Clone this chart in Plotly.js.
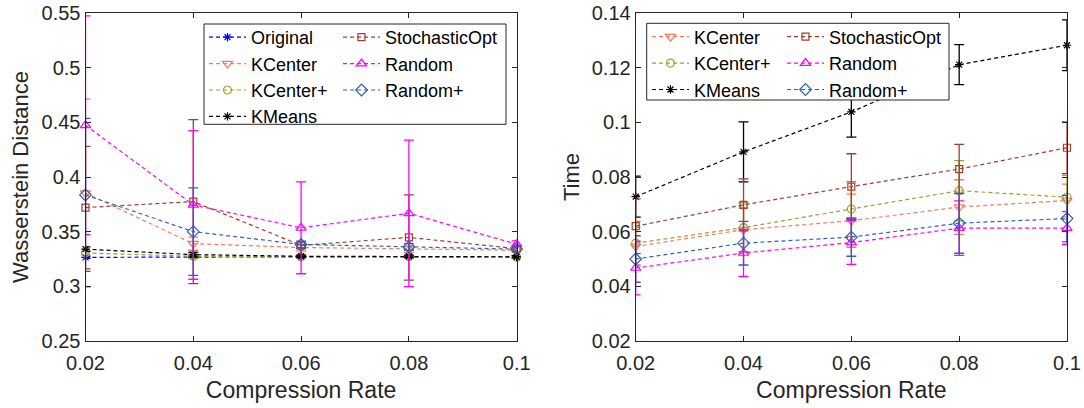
<!DOCTYPE html>
<html><head><meta charset="utf-8">
<script src="https://cdn.plot.ly/plotly-3.0.1.min.js"></script>
<style>html,body{margin:0;padding:0;background:#fff}</style>
</head><body><div id="chart" style="width:1084px;height:408px"></div>
<script>
// ---- data ----
const rates = [0.02, 0.04, 0.06, 0.08, 0.1];
const xTickVals = [0.02, 0.04, 0.06, 0.08, 0.1];
const xTickText = ['0.02', '0.04', '0.06', '0.08', '0.1'];
const wdTickVals = [0.25, 0.3, 0.35, 0.4, 0.45, 0.5, 0.55];
const wdTickText = ['0.25', '0.3', '0.35', '0.4', '0.45', '0.5', '0.55'];
const timeTickVals = [0.02, 0.04, 0.06, 0.08, 0.1, 0.12, 0.14];
const timeTickText = ['0.02', '0.04', '0.06', '0.08', '0.1', '0.12', '0.14'];

// Wasserstein distance (left)
const wdOriginal = [0.3265, 0.327, 0.327, 0.327, 0.327];
const wdOriginalErr = [0.001, 0.001, 0.001, 0.001, 0.001];
const wdKCenter = [0.3853, 0.339, 0.3355, 0.334, 0.333];
const wdKCenterErr = [0.086, 0.006, 0.003, 0.003, 0.002];
const wdKCenterPlus = [0.3305, 0.3275, 0.327, 0.327, 0.3265];
const wdKCenterPlusErr = [0.002, 0.002, 0.001, 0.001, 0.001];
const wdKMeans = [0.334, 0.329, 0.3275, 0.3275, 0.327];
const wdKMeansErr = [0.002, 0.002, 0.001, 0.001, 0.001];
const wdStochOpt = [0.372, 0.3775, 0.3375, 0.3447, 0.3345];
const wdStochOptErr = [0.056, 0.075, 0.003, 0.039, 0.002];
const wdRandom = [0.4473, 0.3745, 0.3535, 0.3668, 0.3385];
const wdRandomErr = [0.1, 0.068, 0.042, 0.067, 0.003];
const wdRandomPlus = [0.3836, 0.35, 0.3383, 0.336, 0.334];
const wdRandomPlusErr = [0.07, 0.04, 0.003, 0.003, 0.002];

// Time (right)
const tKCenter = [0.0546, 0.0607, 0.064, 0.069, 0.0714];
const tKCenterErr = [0.007, 0.008, 0.0097, 0.01, 0.006];
const tKCenterPlus = [0.0558, 0.0615, 0.0683, 0.075, 0.0726];
const tKCenterPlusErr = [0.008, 0.009, 0.01, 0.011, 0.008];
const tKMeans = [0.0728, 0.0892, 0.1038, 0.1211, 0.1282];
const tKMeansErr = [0.0075, 0.011, 0.0092, 0.0073, 0.0093];
const tStochOpt = [0.062, 0.0698, 0.0765, 0.0829, 0.0907];
const tStochOptErr = [0.01, 0.0095, 0.012, 0.009, 0.0095];
const tRandom = [0.0467, 0.0522, 0.056, 0.0613, 0.0613];
const tRandomErr = [0.0098, 0.0086, 0.008, 0.01, 0.006];
const tRandomPlus = [0.05, 0.0558, 0.058, 0.0631, 0.0648];
const tRandomPlusErr = [0.0085, 0.008, 0.007, 0.011, 0.0085];

// ---- styles ----
const STY = {
  'Original':      {color: '#0000FF', symbol: 'asterisk-open', size: 7},
  'KCenter':       {color: '#F87A5E', symbol: 'triangle-down-open', size: 9},
  'KCenter+':      {color: '#A0A033', symbol: 'circle-open', size: 8},
  'KMeans':        {color: '#000000', symbol: 'asterisk-open', size: 7},
  'StochasticOpt': {color: '#A0402C', symbol: 'square-open', size: 7},
  'Random':        {color: '#FF00FF', symbol: 'triangle-up-open', size: 9},
  'Random+':       {color: '#2F63B0', symbol: 'diamond-open', size: 9}
};

function tr(name, y, err, xa, ya, leg) {
  const s = STY[name];
  return {
    type: 'scatter', mode: 'lines+markers', name: name,
    x: rates, y: y, xaxis: xa, yaxis: ya, legend: leg,
    cliponaxis: false,
    line: {color: s.color, width: 1.2, dash: '4px,3px'},
    marker: {symbol: s.symbol, size: s.size, color: s.color, line: {color: s.color, width: 1.2}},
    error_y: {type: 'data', array: err, visible: true, color: s.color, thickness: 1.3, width: 5}
  };
}

const traces = [
  tr('Original', wdOriginal, wdOriginalErr, 'x', 'y', 'legend'),
  tr('KCenter', wdKCenter, wdKCenterErr, 'x', 'y', 'legend'),
  tr('KCenter+', wdKCenterPlus, wdKCenterPlusErr, 'x', 'y', 'legend'),
  tr('KMeans', wdKMeans, wdKMeansErr, 'x', 'y', 'legend'),
  tr('StochasticOpt', wdStochOpt, wdStochOptErr, 'x', 'y', 'legend2'),
  tr('Random', wdRandom, wdRandomErr, 'x', 'y', 'legend2'),
  tr('Random+', wdRandomPlus, wdRandomPlusErr, 'x', 'y', 'legend2'),
  tr('KCenter', tKCenter, tKCenterErr, 'x2', 'y2', 'legend3'),
  tr('KCenter+', tKCenterPlus, tKCenterPlusErr, 'x2', 'y2', 'legend3'),
  tr('KMeans', tKMeans, tKMeansErr, 'x2', 'y2', 'legend3'),
  tr('StochasticOpt', tStochOpt, tStochOptErr, 'x2', 'y2', 'legend4'),
  tr('Random', tRandom, tRandomErr, 'x2', 'y2', 'legend4'),
  tr('Random+', tRandomPlus, tRandomPlusErr, 'x2', 'y2', 'legend4')
];

const W = 1084, H = 408, MT = 13, MB = 67;
const PH = H - MT - MB;
const px = v => v / W;
const py = v => (H - MB - v) / PH;

const AX = '#262626';
function xaxis(dom, anchor) {
  return {
    domain: dom, anchor: anchor, range: [0.02, 0.1],
    tickmode: 'array', tickvals: xTickVals, ticktext: xTickText,
    ticks: 'inside', ticklen: 5, tickcolor: AX, tickwidth: 1,
    showline: true, linecolor: AX, linewidth: 1, mirror: 'ticks',
    showgrid: false, zeroline: false,
    tickfont: {size: 20, color: AX}, ticklabelstandoff: 4,
    title: {text: 'Compression Rate', font: {size: 23, color: AX}, standoff: 8}
  };
}
function yaxis(range, tv, tt, title, anchor) {
  return {
    domain: [0, 1], anchor: anchor, range: range,
    tickmode: 'array', tickvals: tv, ticktext: tt,
    ticks: 'inside', ticklen: 5, tickcolor: AX, tickwidth: 1,
    showline: true, linecolor: AX, linewidth: 1, mirror: 'ticks',
    showgrid: false, zeroline: false,
    tickfont: {size: 20, color: AX},
    title: {text: title, font: {size: 22, color: AX}, standoff: 6}
  };
}
function leg(x, y) {
  return {x: px(x), y: py(y), xanchor: 'left', yanchor: 'top',
    bgcolor: 'rgba(0,0,0,0)', borderwidth: 0,
    font: {size: 18, color: '#000'}, itemwidth: 37, tracegroupgap: 0};
}

const layout = {
  width: W, height: H,
  margin: {l: 0, r: 0, t: MT, b: MB, pad: 0},
  paper_bgcolor: '#fff', plot_bgcolor: '#fff',
  font: {family: '"Liberation Sans", Arial, sans-serif', color: AX},
  showlegend: true,
  xaxis: xaxis([px(85.5), px(516.7)], 'y'),
  yaxis: yaxis([0.25, 0.55], wdTickVals, wdTickText, 'Wasserstein Distance', 'x'),
  xaxis2: xaxis([px(635.7), px(1067)], 'y2'),
  yaxis2: yaxis([0.02, 0.14], timeTickVals, timeTickText, 'Time', 'x2'),
  legend: leg(204, 19),
  legend2: leg(338, 19),
  legend3: leg(647, 18.5),
  legend4: leg(782, 18.5),
  shapes: [
    {type: 'rect', xref: 'paper', yref: 'paper', x0: px(204), x1: px(506), y0: py(124.3), y1: py(24),
     line: {color: AX, width: 1}, fillcolor: 'rgba(255,255,255,1)', layer: 'above'},
    {type: 'rect', xref: 'paper', yref: 'paper', x0: px(646.7), x1: px(949), y0: py(100), y1: py(23.3),
     line: {color: AX, width: 1}, fillcolor: 'rgba(255,255,255,1)', layer: 'above'}
  ]
};

Plotly.newPlot('chart', traces, layout, {displayModeBar: false, staticPlot: true});
</script>
</body></html>
